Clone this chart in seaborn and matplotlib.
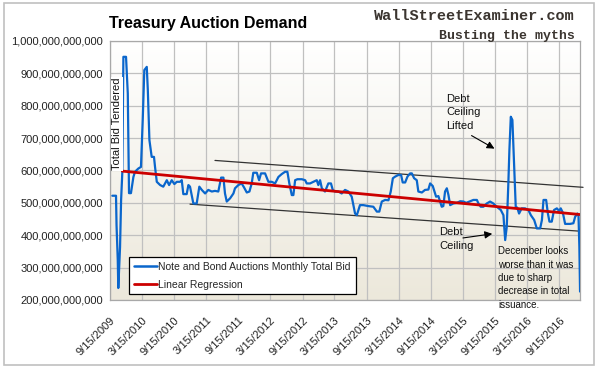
import pandas as pd
import numpy as np
import matplotlib
matplotlib.use("Agg")
import matplotlib.pyplot as plt
import matplotlib.ticker as mticker
from matplotlib.colors import LinearSegmentedColormap
from matplotlib.patches import Rectangle
from matplotlib.lines import Line2D
import seaborn as sns

# Note and bond auctions, monthly total bid (billions of dollars)
bid_dates = [
    "2009-09-28", "2009-10-19", "2009-10-22", "2009-10-29", "2009-11-01", "2009-11-11",
    "2009-11-17", "2009-11-24", "2009-11-30", "2009-12-15", "2009-12-25", "2010-01-01",
    "2010-01-12", "2010-01-26", "2010-02-04", "2010-02-23", "2010-03-10", "2010-03-20",
    "2010-03-29", "2010-04-12", "2010-04-18", "2010-04-27", "2010-05-10", "2010-05-23",
    "2010-05-29", "2010-06-08", "2010-06-27", "2010-07-15", "2010-08-04", "2010-08-17",
    "2010-09-01", "2010-09-16", "2010-09-30", "2010-10-18", "2010-10-28", "2010-11-06",
    "2010-11-25", "2010-12-05", "2010-12-14", "2011-01-02", "2011-01-21", "2011-02-05",
    "2011-02-19", "2011-03-10", "2011-03-28", "2011-04-17", "2011-05-05", "2011-05-24",
    "2011-06-09", "2011-06-22", "2011-07-01", "2011-07-11", "2011-07-30", "2011-08-18",
    "2011-08-27", "2011-09-15", "2011-10-04", "2011-10-17", "2011-11-02", "2011-11-17",
    "2011-11-30", "2011-12-09", "2011-12-29", "2012-01-11", "2012-01-22", "2012-02-14",
    "2012-03-04", "2012-03-23", "2012-04-11", "2012-04-30", "2012-05-19", "2012-06-07",
    "2012-06-20", "2012-07-01", "2012-07-15", "2012-07-24", "2012-08-03", "2012-08-16",
    "2012-09-10", "2012-09-29", "2012-10-08", "2012-10-27", "2012-11-15", "2012-12-04",
    "2012-12-13", "2012-12-23", "2013-01-02", "2013-01-20", "2013-02-08", "2013-02-23",
    "2013-03-05", "2013-03-18", "2013-04-06", "2013-04-25", "2013-05-14", "2013-06-02",
    "2013-06-21", "2013-07-10", "2013-07-20", "2013-08-07", "2013-08-26", "2013-09-24",
    "2013-10-22", "2013-11-11", "2013-11-25", "2013-12-09", "2013-12-28", "2014-01-16",
    "2014-01-29", "2014-02-10", "2014-02-23", "2014-03-13", "2014-03-29", "2014-04-07",
    "2014-04-21", "2014-05-04", "2014-05-19", "2014-05-29", "2014-06-11", "2014-06-26",
    "2014-07-05", "2014-07-25", "2014-08-12", "2014-08-31", "2014-09-10", "2014-09-25",
    "2014-10-14", "2014-10-27", "2014-11-15", "2014-11-24", "2014-12-04", "2014-12-14",
    "2014-12-23", "2015-01-02", "2015-01-20", "2015-02-09", "2015-02-28", "2015-03-19",
    "2015-04-03", "2015-04-25", "2015-05-14", "2015-06-03", "2015-06-12", "2015-06-25",
    "2015-07-10", "2015-07-29", "2015-08-17", "2015-09-05", "2015-09-24", "2015-10-17",
    "2015-11-01", "2015-11-11", "2015-11-20", "2015-11-29", "2015-12-05", "2015-12-13",
    "2015-12-22", "2016-01-01", "2016-01-10", "2016-01-19", "2016-01-29", "2016-02-13",
    "2016-03-03", "2016-03-22", "2016-04-05", "2016-04-24", "2016-05-09", "2016-05-28",
    "2016-06-07", "2016-06-16", "2016-07-01", "2016-07-11", "2016-07-20", "2016-08-02",
    "2016-08-15", "2016-08-31", "2016-09-13", "2016-09-22", "2016-10-04", "2016-10-17",
    "2016-11-14", "2016-12-03", "2016-12-13", "2016-12-26", "2017-01-01", "2017-01-06",
    "2017-01-10",
]
bid_values = [
    522, 522, 431, 323, 237, 364,
    509, 596, 951, 951, 838, 530,
    530, 580, 596, 606, 611, 756,
    910, 920, 848, 694, 642, 642,
    611, 565, 555, 550, 570, 555,
    570, 558, 565, 565, 570, 527,
    527, 555, 550, 498, 498, 550,
    540, 529, 540, 535, 537, 535,
    578, 578, 529, 504, 514, 529,
    545, 555, 560, 548, 532, 535,
    560, 593, 593, 570, 591, 591,
    565, 565, 560, 580, 589, 596,
    596, 560, 524, 524, 570, 573,
    573, 570, 560, 560, 565, 570,
    555, 570, 545, 535, 560, 560,
    540, 535, 535, 529, 540, 535,
    519, 467, 462, 493, 493, 490,
    488, 473, 473, 504, 509, 508,
    535, 576, 581, 586, 586, 563,
    563, 581, 591, 591, 576, 570,
    535, 532, 540, 541, 560, 552,
    519, 521, 488, 490, 535, 545,
    525, 493, 498, 500, 505, 504,
    500, 505, 509, 509, 498, 488,
    488, 498, 504, 498, 488, 478,
    462, 385, 426, 560, 663, 766,
    756, 612, 488, 485, 467, 483,
    483, 478, 462, 447, 421, 421,
    447, 509, 509, 467, 442, 442,
    478, 483, 475, 483, 470, 435,
    435, 437, 457, 467, 462, 365,
    226,
]

# linear regression and channel lines (billions)
reg_dates = ["2009-11-24", "2017-01-10"]
reg_values = [598, 464]
upper_dates = ["2011-05-05", "2017-01-27"]
upper_values = [631, 548]
lower_dates = ["2010-12-14", "2016-12-28"]
lower_values = [496, 413]

tick_labels = ["9/15/2009", "3/15/2010", "9/15/2010", "3/15/2011", "9/15/2011",
               "3/15/2012", "9/15/2012", "3/15/2013", "9/15/2013", "3/15/2014",
               "9/15/2014", "3/15/2015", "9/15/2015", "3/15/2016", "9/15/2016"]

sns.set_theme(style="white")
plt.rcParams["font.family"] = ["Liberation Sans", "DejaVu Sans"]

df = pd.DataFrame({"date": pd.to_datetime(bid_dates), "bid": np.array(bid_values) * 1e9})
reg = pd.DataFrame({"date": pd.to_datetime(reg_dates), "bid": np.array(reg_values) * 1e9})
upper = pd.DataFrame({"date": pd.to_datetime(upper_dates), "bid": np.array(upper_values) * 1e9})
lower = pd.DataFrame({"date": pd.to_datetime(lower_dates), "bid": np.array(lower_values) * 1e9})

fig = plt.figure(figsize=(5.98, 3.69), dpi=100)
ax = fig.add_axes([0.184, 0.187, 0.786, 0.702])

# plot area background gradient
cmap = LinearSegmentedColormap.from_list("bg", ["#ece8db", "#ffffff"])
ax.imshow(np.linspace(0, 1, 256).reshape(-1, 1), extent=[0, 1, 0, 1], origin="lower",
          transform=ax.transAxes, aspect="auto", cmap=cmap, zorder=0)

blue = "#0a66cc"
red = "#cc0000"
sns.lineplot(data=upper, x="date", y="bid", ax=ax, color="#333333", lw=0.9, zorder=3,
             legend=False)
sns.lineplot(data=lower, x="date", y="bid", ax=ax, color="#333333", lw=0.9, zorder=3,
             legend=False)
sns.lineplot(data=df, x="date", y="bid", ax=ax, color=blue, lw=1.6, zorder=4, legend=False)
sns.lineplot(data=reg, x="date", y="bid", ax=ax, color=red, lw=2.0, zorder=5, legend=False)
for ln in ax.lines[:2]:
    ln.set_clip_on(False)

ax.set_xlim(pd.Timestamp("2009-09-15"), pd.Timestamp("2017-01-10"))
ax.set_ylim(200e9, 1000e9)
ax.set_yticks(np.arange(200e9, 1000e9 + 1, 100e9))
ax.yaxis.set_major_formatter(mticker.FuncFormatter(lambda v, p: f"{v:,.0f}"))
ax.set_xticks(pd.to_datetime(tick_labels))
ax.set_xticklabels(tick_labels, rotation=45, ha="right", rotation_mode="anchor")
ax.tick_params(axis="both", labelsize=8, colors="#222222", length=3, width=0.8)
ax.tick_params(axis="x", pad=8)
ax.tick_params(axis="y", pad=2)
for lab in ax.get_xticklabels() + ax.get_yticklabels():
    lab.set_color("#222222")
ax.grid(True, color="#c0c0c0", lw=0.9, zorder=1)
ax.set_axisbelow(True)
for s in ax.spines.values():
    s.set_color("#a8a8a8")
    s.set_linewidth(0.9)
ax.set_xlabel("")
ax.set_ylabel("")

ax.text(0.004, 0.68, "Total Bid Tendered", transform=ax.transAxes, rotation=90,
        ha="left", va="center", fontsize=8, color="#111111", zorder=6,
        bbox=dict(facecolor="white", edgecolor="none", pad=0.5))

handles = [Line2D([], [], color=blue, lw=1.8), Line2D([], [], color=red, lw=2.0)]
leg = ax.legend(handles, ["Note and Bond Auctions Monthly Total Bid", "Linear Regression"],
                loc="lower left", bbox_to_anchor=(0.041, 0.022), fontsize=7.5,
                frameon=True, fancybox=False, framealpha=1, edgecolor="black",
                handlelength=2.2, handletextpad=0.15, labelspacing=0.75,
                borderpad=0.45, borderaxespad=0)
leg.get_frame().set_linewidth(0.9)
leg.set_zorder(7)

# annotations
arrow = dict(arrowstyle="-|>", color="black", lw=0.8, mutation_scale=11)
ax.annotate("Debt\nCeiling\nLifted", xy=(0.823, 0.579), xytext=(0.715, 0.797),
            xycoords="axes fraction", textcoords="axes fraction", ha="left", va="top",
            fontsize=8, linespacing=1.45, color="#111111")
ax.annotate("", xy=(0.823, 0.579), xytext=(0.764, 0.640), xycoords="axes fraction",
            textcoords="axes fraction", arrowprops=arrow)
ax.annotate("Debt\nCeiling", xy=(0.819, 0.257), xytext=(0.700, 0.282),
            xycoords="axes fraction", textcoords="axes fraction", ha="left", va="top",
            fontsize=8, linespacing=1.45, color="#111111")
ax.annotate("", xy=(0.819, 0.257), xytext=(0.745, 0.238), xycoords="axes fraction",
            textcoords="axes fraction", arrowprops=arrow)
ax.text(0.826, 0.207, "December looks\nworse than it was\ndue to sharp\ndecrease in total\nissuance.",
        transform=ax.transAxes, ha="left", va="top", fontsize=7, linespacing=1.42,
        color="#111111", zorder=6)

fig.text(0.182, 0.935, "Treasury Auction Demand", ha="left", va="center",
         fontsize=11.5, fontweight="bold", color="black")
fig.text(0.961, 0.956, "WallStreetExaminer.com", ha="right", va="center",
         family="Liberation Mono", fontsize=11, fontweight="bold", color="#3b3530")
fig.text(0.961, 0.902, "Busting the myths", ha="right", va="center",
         family="Liberation Mono", fontsize=9.5, fontweight="bold", color="#3b3530")

fig.patches.append(Rectangle((0.007, 0.011), 0.986, 0.981, transform=fig.transFigure,
                             fill=False, edgecolor="#c0c0c0", lw=1.2))

fig.savefig("out.png", dpi=100)
